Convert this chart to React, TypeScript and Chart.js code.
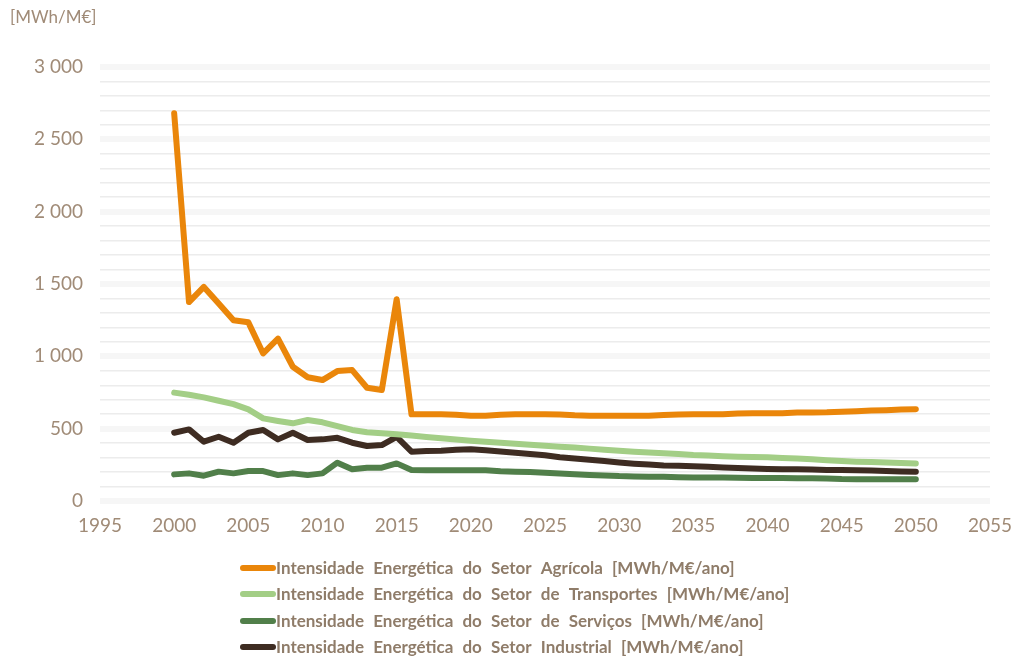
import React, { useEffect, useRef } from "react";
import { Chart, registerables } from "chart.js";

Chart.register(...registerables);

const startYear = 2000;
const endYear = 2050;
const years: number[] = [];
for (let y = startYear; y <= endYear; y++) years.push(y);

const agricola = [
  2680, 1375, 1480, 1365, 1250, 1235, 1020, 1122, 928, 855,
  836, 898, 905, 783, 767, 1394, 599, 599, 599, 597,
  590, 590, 597, 599, 599, 599, 598, 592, 590, 590,
  590, 590, 590, 594, 598, 599, 599, 600, 604, 606,
  606, 607, 611, 612, 613, 617, 620, 625, 628, 632, 635,
];
const transportes = [
  749, 734, 716, 693, 670, 633, 571, 553, 537, 560,
  544, 518, 491, 475, 468, 461, 452, 443, 433, 425,
  417, 410, 403, 396, 389, 382, 375, 369, 362, 355,
  348, 341, 336, 330, 325, 318, 314, 310, 306, 304,
  302, 297, 293, 289, 282, 276, 272, 269, 266, 262, 260,
];
const servicos = [
  184, 191, 175, 203, 191, 207, 207, 179, 191, 179,
  191, 265, 219, 230, 230, 260, 214, 213, 213, 213,
  212, 212, 205, 203, 200, 196, 190, 185, 180, 177,
  172, 170, 168, 167, 165, 163, 163, 162, 160, 159,
  159, 159, 158, 158, 156, 152, 151, 151, 150, 150, 150,
];
const industrial = [
  472, 495, 410, 444, 403, 472, 491, 426, 472, 422,
  426, 437, 403, 380, 387, 444, 341, 345, 348, 354,
  357, 350, 342, 334, 325, 316, 302, 293, 285, 276,
  266, 258, 252, 246, 243, 240, 237, 232, 228, 224,
  222, 220, 219, 217, 215, 214, 213, 211, 207, 204, 203,
];

const seriesLabels = [
  "Intensidade Energética do Setor Agrícola [MWh/M€/ano]",
  "Intensidade Energética do Setor de Transportes [MWh/M€/ano]",
  "Intensidade Energética do Setor de Serviços [MWh/M€/ano]",
  "Intensidade Energética do Setor Industrial [MWh/M€/ano]",
];
const seriesColors = ["#ea860a", "#a3ce86", "#517f4a", "#3e2c22"];
const seriesValues = [agricola, transportes, servicos, industrial];
const unitLabel = "[MWh/M€]";

const textColor = "#a08b77";
const legendTextColor = "#8f7c69";
const fontFamily = "Lato, 'Noto Sans', sans-serif";

const fmt = (v: number) => String(v).replace(/\B(?=(\d{3})+(?!\d))/g, " ");

const overlayPlugin = {
  id: "overlay",
  afterDraw(chart: any) {
    const ctx = chart.ctx as CanvasRenderingContext2D;
    ctx.save();
    ctx.fillStyle = textColor;
    ctx.font = `17px ${fontFamily}`;
    ctx.textAlign = "left";
    ctx.textBaseline = "middle";
    ctx.fillText(unitLabel, 10, 18);
    const x0 = 243;
    const x1 = 273;
    const rowY = [568, 594, 621, 647];
    chart.data.datasets.forEach((ds: any, i: number) => {
      const y = rowY[i];
      ctx.strokeStyle = ds.borderColor;
      ctx.lineWidth = 6;
      ctx.lineCap = "round";
      ctx.beginPath();
      ctx.moveTo(x0, y);
      ctx.lineTo(x1, y);
      ctx.stroke();
      ctx.fillStyle = legendTextColor;
      ctx.font = `bold 17px ${fontFamily}`;
      (ctx as any).wordSpacing = "5px";
      ctx.textBaseline = "middle";
      ctx.fillText(ds.label, 276, y + 1);
      (ctx as any).wordSpacing = "0px";
    });
    ctx.restore();
  },
};

export default function App() {
  const ref = useRef<HTMLCanvasElement | null>(null);
  useEffect(() => {
    if (!ref.current) return;
    const chart = new Chart(ref.current, {
      type: "line",
      data: {
        datasets: seriesValues.map((vals, i) => ({
          label: seriesLabels[i],
          data: years.map((yr, j) => ({ x: yr, y: vals[j] })),
          borderColor: seriesColors[i],
          backgroundColor: seriesColors[i],
          borderWidth: 6,
          pointRadius: 0,
          borderCapStyle: "round" as const,
          borderJoinStyle: "round" as const,
          tension: 0,
        })),
      },
      options: {
        responsive: false,
        animation: false,
        layout: { padding: { top: 67, right: 28, bottom: 0, left: 0 } },
        plugins: {
          legend: { display: false },
          tooltip: { enabled: false },
          title: { display: false },
        },
        scales: {
          x: {
            type: "linear",
            min: 1995,
            max: 2055,
            grid: { display: false, drawTicks: false },
            border: { display: false },
            ticks: {
              stepSize: 5,
              padding: 13,
              color: textColor,
              font: { family: fontFamily, size: 19 },
              callback: (v: any) => String(v),
              maxRotation: 0,
            },
            afterFit: (s: any) => {
              s.height = 159;
              s.paddingLeft = 0;
              s.paddingRight = 0;
            },
          },
          y: {
            min: 0,
            max: 3000,
            grid: {
              drawTicks: false,
              color: (c: any) => (c.tick && c.tick.value % 500 === 0 ? "#f6f6f6" : "#ececec"),
              lineWidth: (c: any) => (c.tick && c.tick.value % 500 === 0 ? 6 : 1.5),
            },
            border: { display: false },
            ticks: {
              stepSize: 100,
              autoSkip: false,
              padding: 17,
              color: textColor,
              font: { family: fontFamily, size: 19 },
              callback: (v: any) => (Number(v) % 500 === 0 ? fmt(Number(v)) : ""),
            },
            afterFit: (s: any) => {
              s.width = 100;
            },
          },
        },
      },
      plugins: [overlayPlugin],
    } as any);
    return () => chart.destroy();
  }, []);
  return (
    <div style={{ position: "absolute", left: 0, top: 0, width: 1018, height: 660, background: "#fff" }}>
      <canvas ref={ref} width={1018} height={660} />
    </div>
  );
}
